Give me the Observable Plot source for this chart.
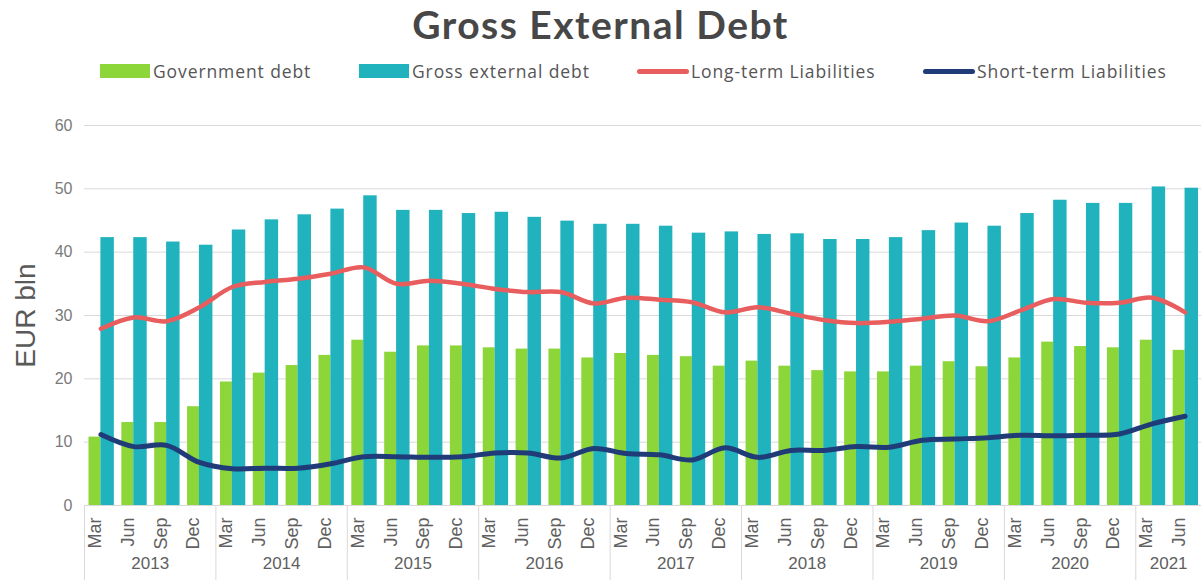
<!DOCTYPE html>
<html>
<head>
<meta charset="utf-8">
<script src="https://cdn.jsdelivr.net/npm/d3@7"></script>
<script src="https://cdn.jsdelivr.net/npm/@observablehq/plot@0.6"></script>
<style>
  body { margin: 0; background: #fff; width: 1201px; height: 580px; overflow: hidden; }
  #title { height: 46px; line-height: 48px; text-align: center; font-family: Lato, "Open Sans", sans-serif; font-weight: bold; font-size: 39px; letter-spacing: 1.5px; color: #474747; }
  #legend { position: relative; height: 54px; font-family: "Open Sans", "Noto Sans", sans-serif; font-size: 17.5px; letter-spacing: 0.9px; color: #555; }
  .item { position: absolute; top: 14px; display: flex; align-items: center; height: 22px; white-space: nowrap; }
  .sw { width: 50px; height: 14px; margin-right: 3px; }
  .ln { width: 52px; height: 5px; border-radius: 3px; margin-right: 2px; }
  #chart svg { display: block; }
</style>
</head>
<body>
<div id="title">Gross External Debt</div>
<div id="legend"></div>
<div id="chart"></div>
<script>
const months = ["Mar", "Jun", "Sep", "Dec"];
const yearLabels = ["2013", "2014", "2015", "2016", "2017", "2018", "2019", "2020", "2021"];
const grossExternalDebt = [42.3, 42.3, 41.6, 41.1, 43.5, 45.1, 45.9, 46.8, 48.9, 46.6, 46.6, 46.1, 46.3, 45.5, 44.9, 44.4, 44.4, 44.1, 43.0, 43.2, 42.8, 42.9, 42.0, 42.0, 42.3, 43.4, 44.6, 44.1, 46.1, 48.2, 47.7, 47.7, 50.3, 50.1];
const governmentDebt = [10.8, 13.1, 13.1, 15.6, 19.5, 20.9, 22.1, 23.7, 26.1, 24.2, 25.2, 25.2, 24.9, 24.7, 24.7, 23.3, 24.0, 23.7, 23.5, 22.0, 22.8, 22.0, 21.3, 21.1, 21.1, 22.0, 22.7, 21.9, 23.3, 25.8, 25.1, 24.9, 26.1, 24.5];
const longTermLiabilities = [27.9, 29.7, 29.1, 31.3, 34.5, 35.3, 35.8, 36.6, 37.6, 35.0, 35.5, 35.0, 34.2, 33.7, 33.7, 31.9, 32.8, 32.5, 32.1, 30.5, 31.3, 30.3, 29.3, 28.8, 29.0, 29.5, 30.0, 29.1, 30.8, 32.6, 32.0, 32.0, 32.8, 30.5];
const shortTermLiabilities = [11.2, 9.3, 9.5, 6.8, 5.8, 5.9, 5.9, 6.6, 7.7, 7.7, 7.6, 7.7, 8.3, 8.3, 7.5, 9.0, 8.2, 8.0, 7.2, 9.1, 7.6, 8.7, 8.7, 9.3, 9.2, 10.3, 10.5, 10.7, 11.1, 11.0, 11.1, 11.3, 12.9, 14.1];
const yTicks = [0, 10, 20, 30, 40, 50, 60];

const colors = {gov: "#8dd63a", gross: "#21b3bd", long: "#e85d5d", short: "#1f3b78"};

const data = grossExternalDebt.map((g, i) => ({
  i,
  year: yearLabels[Math.floor(i / 4)],
  month: months[i % 4],
  gross: g,
  gov: governmentDebt[i],
  long: longTermLiabilities[i],
  short: shortTermLiabilities[i]
}));
const n = data.length;
const yearGroups = d3.groups(data, d => d.year).map(([year, rows]) => ({
  year,
  start: rows[0].i,
  center: d3.mean(rows, r => r.i) + 0.5
}));

// Legend
const legendItems = [
  {label: "Government debt", color: colors.gov, type: "sw", left: 100},
  {label: "Gross external debt", color: colors.gross, type: "sw", left: 359},
  {label: "Long-term Liabilities", color: colors.long, type: "ln", left: 637},
  {label: "Short-term Liabilities", color: colors.short, type: "ln", left: 923}
];
const legend = document.getElementById("legend");
for (const it of legendItems) {
  const el = document.createElement("div");
  el.className = "item";
  el.style.left = it.left + "px";
  const s = document.createElement("div");
  s.className = it.type;
  s.style.background = it.color;
  el.appendChild(s);
  const t = document.createElement("span");
  t.textContent = it.label;
  el.appendChild(t);
  legend.appendChild(el);
}

const width = 1201, height = 480, marginTop = 25, marginBottom = 75, marginLeft = 84, marginRight = 0;
const frameH = height - marginTop - marginBottom;

const chart = Plot.plot({
  width, height, marginTop, marginBottom, marginLeft, marginRight,
  style: {fontFamily: "'Liberation Sans', Arial, sans-serif", background: "#fff"},
  x: {type: "linear", domain: [0, n], axis: null},
  y: {domain: [0, 60], axis: null},
  marks: [
    Plot.ruleY(yTicks, {stroke: "#d9d9d9", strokeWidth: 1}),
    Plot.axisY({ticks: yTicks, tickSize: 0, tickPadding: 12, fontSize: 16, color: "#7a7a7a", label: null}),
    Plot.text(["EUR bln"], {frameAnchor: "left", textAnchor: "middle", dx: -58, rotate: -90, fontSize: 28, fill: "#595959"}),
    Plot.rectY(data, {x1: d => d.i, x2: d => d.i + 1, y: "gov", fill: colors.gov, insetLeft: 4.5, insetRight: 16.4}),
    Plot.rectY(data, {x1: d => d.i, x2: d => d.i + 1, y: "gross", fill: colors.gross, insetLeft: 16.4, insetRight: 3}),
    Plot.line(data, {x: d => d.i + 0.5, y: "long", stroke: colors.long, strokeWidth: 4.5, curve: "catmull-rom"}),
    Plot.line(data, {x: d => d.i + 0.5, y: "short", stroke: colors.short, strokeWidth: 5, curve: "catmull-rom"}),
    // x axis: year separators
    Plot.ruleX(yearGroups, {x: "start", stroke: "#d9d9d9", insetTop: frameH, insetBottom: -marginBottom}),
    Plot.ruleX([n], {stroke: "#d9d9d9", insetTop: frameH, insetBottom: -marginBottom}),
    // month labels
    Plot.text(data, {x: d => d.i + 0.5, frameAnchor: "bottom", dy: 12, rotate: -90, textAnchor: "end", text: "month", fontSize: 18, fill: "#606060"}),
    // year labels
    Plot.text(yearGroups, {x: "center", frameAnchor: "bottom", dy: 63, text: "year", fontSize: 17, fill: "#606060"})
  ]
});
document.getElementById("chart").appendChild(chart);
</script>
</body>
</html>
